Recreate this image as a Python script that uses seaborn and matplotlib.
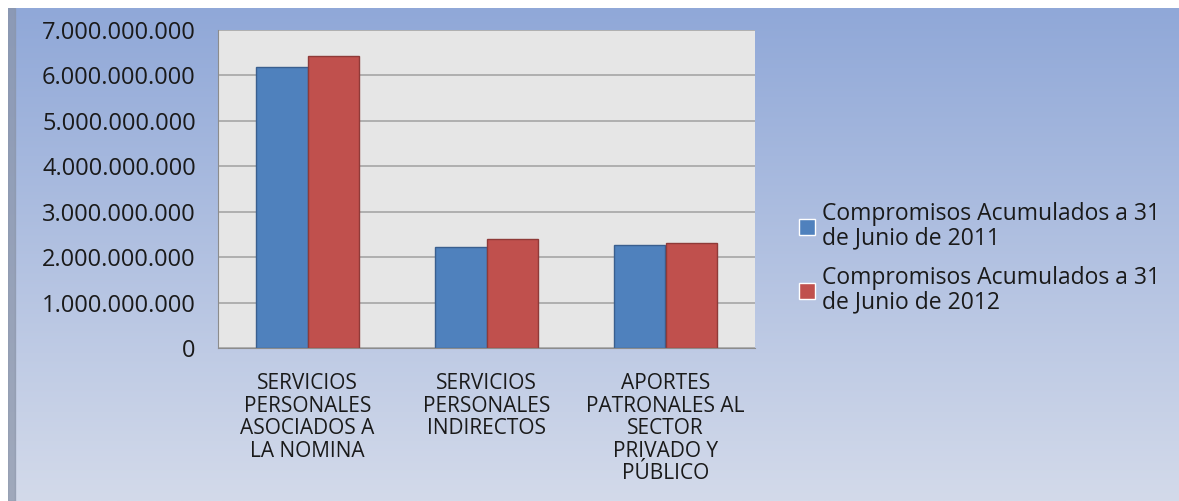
import numpy as np
import pandas as pd
import matplotlib.pyplot as plt
import matplotlib.ticker as mticker
import seaborn as sns

# Data
categories = ['SERVICIOS\nPERSONALES\nASOCIADOS A\nLA NOMINA',
              'SERVICIOS\nPERSONALES\nINDIRECTOS',
              'APORTES\nPATRONALES AL\nSECTOR\nPRIVADO Y\nPÚBLICO']
series_names = ['Compromisos Acumulados a 31\nde Junio de 2011',
                'Compromisos Acumulados a 31\nde Junio de 2012']
values_2011 = [6.19e9, 2.22e9, 2.27e9]
values_2012 = [6.43e9, 2.40e9, 2.31e9]

df = pd.DataFrame({
    'categoria': categories * 2,
    'serie': [series_names[0]] * 3 + [series_names[1]] * 3,
    'valor': values_2011 + values_2012,
})

sns.set_style('white')
plt.rcParams['font.family'] = ['Open Sans', 'DejaVu Sans']

fig = plt.figure(figsize=(11.79, 5.01), dpi=100)
fig.patch.set_facecolor('white')

# Gradient panel behind the chart
bg = fig.add_axes([8 / 1179, 0, 1 - 8 / 1179, 1 - 8 / 501])
bg.set_axis_off()
top = np.array([0x90, 0xa8, 0xd8]) / 255
bottom = np.array([0xd3, 0xda, 0xea]) / 255
t = np.linspace(0, 1, 256)[:, None]
grad = top + (bottom - top) * t
bg.imshow(grad[:, None, :].repeat(2, axis=1), aspect='auto', extent=[0, 1, 0, 1])
bg.add_patch(plt.Rectangle((0, 0), 0.006, 1, color='#8a94a8', alpha=0.7))
bg.set_xlim(0, 1)
bg.set_ylim(0, 1)

ax = fig.add_axes([218 / 1179, 1 - 348 / 501, (755 - 218) / 1179, (348 - 30) / 501])
colors = ['#4f81bd', '#c0504d']
sns.barplot(data=df, x='categoria', y='valor', hue='serie', palette=colors,
            width=0.57, gap=0, saturation=1, ax=ax, legend=True,
            edgecolor=None, linewidth=1)
for bar, c in zip(ax.patches, [colors[0]] * 3 + [colors[1]] * 3):
    bar.set_edgecolor('#3a5f8f' if c == colors[0] else '#8f3a38')

ax.set_facecolor('#e6e6e6')
ax.set_ylim(0, 7e9)
ax.set_yticks(np.arange(0, 7.01e9, 1e9))
ax.yaxis.set_major_formatter(mticker.FuncFormatter(lambda v, p: f'{int(v):,}'.replace(',', '.')))
ax.grid(axis='y', color='#a6a6a6', linewidth=1.2)
ax.set_axisbelow(True)
ax.set_xlabel('')
ax.set_ylabel('')
for s in ['top', 'right']:
    ax.spines[s].set_visible(False)
for s in ['left', 'bottom']:
    ax.spines[s].set_color('#8c8c8c')
ax.tick_params(axis='y', length=8, color='#8c8c8c', labelsize=17, labelcolor='#1a1a1a', pad=8)
ax.set_xticks([0, 1, 2])
ax.set_xticklabels(categories, fontsize=15, color='#1a1a1a', linespacing=1.1)
ax.tick_params(axis='x', length=0, pad=18)
ax.set_xticks([-0.5, 0.5, 1.5, 2.5], minor=True)
ax.tick_params(axis='x', which='minor', length=6, color='#8c8c8c')

handles, labels = ax.get_legend_handles_labels()
ax.legend_.remove()
leg = fig.legend(handles, labels, loc='center left', bbox_to_anchor=(778 / 1179, 1 - 258 / 501),
                 frameon=False, fontsize=16.5, handlelength=0.7, handleheight=0.7,
                 handletextpad=0.3, labelspacing=0.7, labelcolor='#1a1a1a')
for txt in leg.get_texts():
    txt.set_linespacing(1.0)

fig.savefig('out.png', dpi=100)
